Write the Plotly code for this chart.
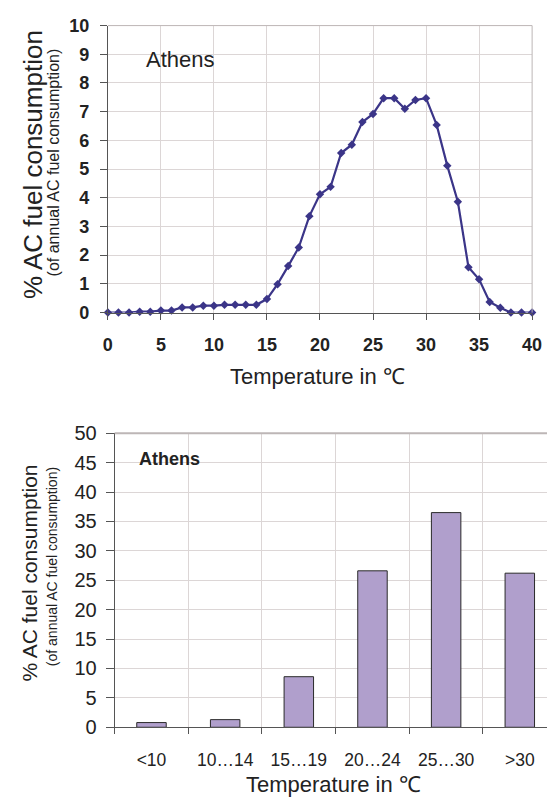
import plotly.graph_objects as go

# Daily mean temperature (°C) and share of annual AC fuel consumption (%)
temps = list(range(0, 41))
share_by_temp = [
    0.0, 0.0, 0.0, 0.03, 0.03, 0.07, 0.07, 0.18, 0.18, 0.24,
    0.24, 0.27, 0.27, 0.27, 0.27, 0.47, 0.99, 1.62, 2.27, 3.36,
    4.12, 4.38, 5.56, 5.85, 6.64, 6.92, 7.47, 7.47, 7.10, 7.41,
    7.47, 6.54, 5.12, 3.86, 1.58, 1.16, 0.37, 0.17, 0.0, 0.0, 0.0,
]

# Aggregated by temperature band
bands = ["<10", "10…14", "15…19", "20…24", "25…30", ">30"]
share_by_band = [0.8, 1.3, 8.6, 26.6, 36.5, 26.2]

W, H = 557, 809
TXT = "#222222"
GRID = "#dcd6d6"
AXIS = "#555555"
BORDER = "#bdb6b6"
FONT = "Liberation Sans, Arial, sans-serif"


def px(x):
    return x / W


def py(y):
    return 1 - y / H


# plot-area pixel boxes
T_L, T_R, T_T, T_B = 105.7, 541.7, 15, 310
B_L, B_T, B_B = 112.7, 434, 736.3
B_CAT = 75.7  # pixels per category
b_right = -0.5 + (W - B_L) / B_CAT

fig = go.Figure()

fig.add_trace(go.Scatter(
    x=temps, y=share_by_temp, mode="lines+markers",
    line=dict(color="#3b3588", width=2.2),
    marker=dict(symbol="diamond", size=6.5, color="#3b3588"),
    cliponaxis=False, xaxis="x", yaxis="y", showlegend=False,
))

fig.add_trace(go.Bar(
    x=list(range(len(bands))), y=share_by_band, width=0.4,
    marker=dict(color="#b09fcc", line=dict(color="#2a2a2a", width=1)),
    xaxis="x2", yaxis="y2", showlegend=False,
))

fig.update_layout(
    width=W, height=H,
    margin=dict(l=0, r=0, t=0, b=0),
    paper_bgcolor="white", plot_bgcolor="white",
    font=dict(family=FONT, color=TXT),
    xaxis=dict(
        domain=[px(T_L), px(T_R)], anchor="y", range=[0, 40],
        tickmode="linear", tick0=0, dtick=5,
        ticks="outside", ticklen=6, tickcolor=AXIS,
        tickfont=dict(size=18, family=FONT, color=TXT, weight="bold"),
        ticklabelstandoff=10,
        showgrid=True, gridcolor=GRID, gridwidth=1,
        showline=True, linecolor=AXIS, linewidth=1, zeroline=False,
    ),
    yaxis=dict(
        domain=[py(T_B), py(T_T)], anchor="x", range=[0, 10],
        tickmode="linear", tick0=0, dtick=1,
        ticks="outside", ticklen=7, tickcolor=AXIS,
        tickfont=dict(size=18, family=FONT, color=TXT, weight="bold"),
        ticklabelstandoff=7,
        showgrid=True, gridcolor=GRID, gridwidth=1,
        showline=True, linecolor=AXIS, linewidth=1, zeroline=False,
    ),
    xaxis2=dict(
        domain=[px(B_L), 1], anchor="y2", range=[-0.5, b_right],
        tickmode="array", tickvals=list(range(len(bands))), ticktext=bands,
        ticks="", showgrid=False,
        tickfont=dict(size=17.5, family=FONT, color=TXT),
        ticklabelstandoff=17,
        minor=dict(tickmode="linear", tick0=-0.5, dtick=1,
                   ticks="outside", ticklen=6, tickcolor=AXIS,
                   showgrid=True, gridcolor=GRID, gridwidth=1),
        showline=True, linecolor=AXIS, linewidth=1, zeroline=False,
    ),
    yaxis2=dict(
        domain=[py(B_B), py(B_T)], anchor="x2", range=[0, 50],
        tickmode="linear", tick0=0, dtick=5,
        ticks="outside", ticklen=8, tickcolor=AXIS,
        tickfont=dict(size=20, family=FONT, color=TXT),
        ticklabelstandoff=5,
        showgrid=True, gridcolor=GRID, gridwidth=1,
        showline=True, linecolor=AXIS, linewidth=1, zeroline=False,
    ),
)

shapes = [
    # frame of the upper panel (top and right edges)
    dict(type="line", xref="paper", yref="paper", x0=px(T_L), x1=px(T_R),
         y0=py(T_T), y1=py(T_T), line=dict(color=BORDER, width=1)),
    dict(type="line", xref="paper", yref="paper", x0=px(T_R), x1=px(T_R),
         y0=py(T_B), y1=py(T_T), line=dict(color=BORDER, width=1)),
    # top edge of the lower panel
    dict(type="line", xref="paper", yref="paper", x0=px(B_L), x1=1,
         y0=py(B_T), y1=py(B_T), line=dict(color=BORDER, width=2)),
    # white boxes behind the city labels
    dict(type="rect", xref="paper", yref="paper", layer="between",
         x0=px(137), x1=px(223), y0=py(67), y1=py(32),
         fillcolor="white", line=dict(width=0)),
    dict(type="rect", xref="paper", yref="paper", layer="between",
         x0=px(122), x1=px(207), y0=py(475), y1=py(447),
         fillcolor="white", line=dict(width=0)),
]
fig.update_layout(shapes=shapes)

ann = [
    dict(text="Athens", x=px(180), y=py(50), font=dict(size=22, color=TXT)),
    dict(text="<b>Athens</b>", x=px(169), y=py(461), font=dict(size=18, color=TXT)),
    # upper panel axis titles
    dict(text="Temperature in ℃", x=px(321), y=py(376), font=dict(size=22, color=TXT)),
    dict(text="% AC fuel consumption", x=px(28), y=py(158), textangle=-90,
         font=dict(size=26, color=TXT)),
    dict(text="(of annual AC fuel consumption)", x=px(50), y=py(156), textangle=-90,
         font=dict(size=16, color=TXT)),
    # lower panel axis titles
    dict(text="Temperature in ℃", x=px(338), y=py(795), font=dict(size=22, color=TXT),
         borderpad=0),
    dict(text="% AC fuel consumption", x=px(25), y=py(578), textangle=-90,
         font=dict(size=21, color=TXT)),
    dict(text="(of annual AC fuel consumption)", x=px(49), y=py(571), textangle=-90,
         font=dict(size=14, color=TXT)),
]
for a in ann:
    a.update(xref="paper", yref="paper", showarrow=False,
             xanchor="center", yanchor="middle")
    a["font"]["family"] = FONT
fig.update_layout(annotations=ann)

fig.write_html("out.html")
